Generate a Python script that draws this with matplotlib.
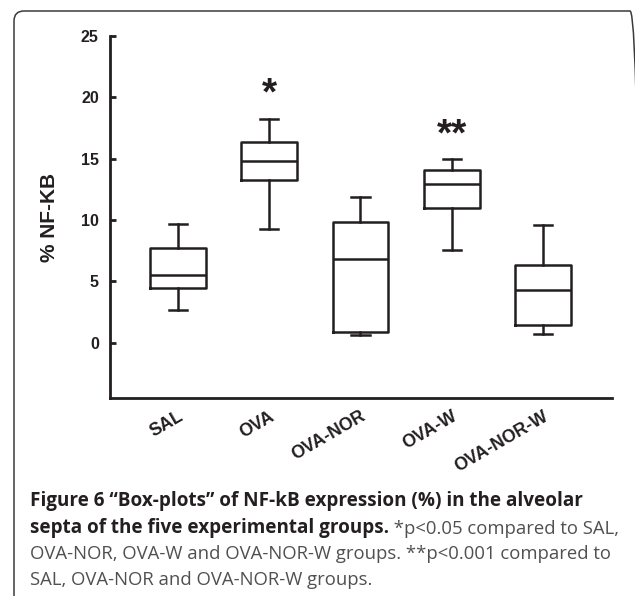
import numpy as np
import matplotlib.pyplot as plt
from matplotlib.patches import FancyBboxPatch
from matplotlib.transforms import IdentityTransform

# values (% NF-kB)
groups = ['SAL', 'OVA', 'OVA-NOR', 'OVA-W', 'OVA-NOR-W']
whislo = [2.7, 9.3, 0.6, 7.55, 0.7]
q1 = [4.5, 13.3, 0.9, 11.0, 1.45]
med = [5.5, 14.8, 6.85, 12.9, 4.3]
q3 = [7.75, 16.4, 9.85, 14.1, 6.3]
whishi = [9.65, 18.25, 11.85, 14.95, 9.6]
stars = ['', '*', '', '**', '']
yticks = [0, 5, 10, 15, 20, 25]

plt.rcParams['font.family'] = ['Liberation Sans', 'DejaVu Sans']

fig = plt.figure(figsize=(6.35, 5.96), dpi=100)
ax = fig.add_axes([0.1732, 0.3322, 0.7906, 0.6074])

stats = []
for i, g in enumerate(groups):
    stats.append(dict(label=g, whislo=whislo[i], q1=q1[i], med=med[i],
                      q3=q3[i], whishi=whishi[i], fliers=[]))
pos = np.arange(1, len(groups) + 1)
lw = 1.8
ax.bxp(stats, positions=pos, widths=0.61, capwidths=0.2, showfliers=False,
       boxprops=dict(color='#231f20', linewidth=lw),
       medianprops=dict(color='#231f20', linewidth=lw),
       whiskerprops=dict(color='#231f20', linewidth=lw),
       capprops=dict(color='#231f20', linewidth=lw))

# significance marks above the upper whiskers
for p, top, s in zip(pos, whishi, stars):
    if s:
        ax.annotate(s, xy=(p, top), xytext=(0, 10), textcoords='offset points',
                    ha='center', va='baseline', fontsize=28, fontweight='bold',
                    color='#231f20')

ax.set_xlim(0.255, 5.756)
ax.set_ylim(-4.5, 25)
ax.set_yticks(yticks)
ax.set_yticklabels([str(t) for t in yticks], fontsize=11.5, fontweight='bold')
ax.set_xticks(pos)
ax.set_xticklabels(groups, fontsize=12.8, fontweight='bold', rotation=30,
                   ha='right', va='top', rotation_mode='anchor')
ax.tick_params(axis='y', direction='in', length=4, width=2, pad=8, colors='#231f20')
ax.tick_params(axis='x', length=0, pad=7, colors='#231f20')
for side in ['top', 'right']:
    ax.spines[side].set_visible(False)
for side in ['left', 'bottom']:
    ax.spines[side].set_linewidth(2)
    ax.spines[side].set_color('#231f20')

ax.set_ylabel('% NF-KB', fontsize=15, fontweight='bold', color='#231f20')
ax.yaxis.set_label_coords(-0.1016, 0.5)

# rounded frame around figure + caption
frame = FancyBboxPatch((14, -30), 626, 615, boxstyle='round,pad=0,rounding_size=10',
                       transform=IdentityTransform(), facecolor='none',
                       edgecolor='#3a3a3a', linewidth=1.1, clip_on=False)
fig.add_artist(frame)

# caption
cap_font = ['Open Sans', 'DejaVu Sans']
bold_size = 13.6
reg_size = 13.3
bold_col = '#231f20'
reg_col = '#505050'
x0 = 30 / 635
base = [1 - 506 / 596, 1 - 532.5 / 596, 1 - 559 / 596, 1 - 585 / 596]
fig.text(x0, base[0], 'Figure 6 \u201cBox-plots\u201d of NF-kB expression (%) in the alveolar',
         family=cap_font, fontsize=bold_size, fontweight='bold', color=bold_col, va='baseline')
b2 = fig.text(x0, base[1], 'septa of the five experimental groups.',
              family=cap_font, fontsize=bold_size, fontweight='bold', color=bold_col,
              va='baseline')
ax.annotate(' *p<0.05 compared to SAL,', xy=(1, 0), xycoords=b2, va='bottom', ha='left',
            family=cap_font, fontsize=reg_size, color=reg_col, annotation_clip=False)
fig.text(x0, base[2], 'OVA-NOR, OVA-W and OVA-NOR-W groups. **p<0.001 compared to',
         family=cap_font, fontsize=reg_size, color=reg_col, va='baseline')
fig.text(x0, base[3], 'SAL, OVA-NOR and OVA-NOR-W groups.',
         family=cap_font, fontsize=reg_size, color=reg_col, va='baseline')

fig.savefig('out.png', dpi=100)
